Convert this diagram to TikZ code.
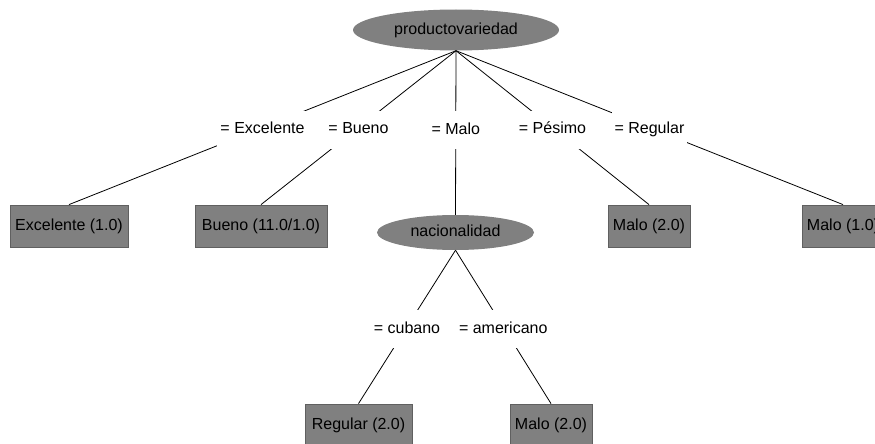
\documentclass[tikz,border=0pt]{standalone}
\usepackage{fontspec}
\setmainfont{Liberation Sans}
\usetikzlibrary{shapes.geometric}
\definecolor{nodegray}{RGB}{128,128,128}
\definecolor{edgegray}{RGB}{96,96,96}
\begin{document}
\begin{tikzpicture}[x=1pt,y=-1pt,
  every node/.style={font=\fontsize{16}{18}\selectfont, text=black,
    text height=11.6pt, text depth=3.4pt},
  splitnode/.style={ellipse, fill=nodegray, draw=none, inner sep=0pt},
  leafbox/.style={rectangle, fill=nodegray, draw=edgegray, line width=0.8pt,
    minimum height=42pt, inner sep=0pt},
  branch/.style={draw=black, line width=0.8pt},
  cond/.style={fill=white, inner xsep=3pt, inner ysep=0pt, minimum height=38pt,
    midway, yshift=-2pt}
]
\useasboundingbox (0,0) rectangle (875,444);
\clip (0,0) rectangle (875,444);

% internal (split) nodes
\node[splitnode, minimum width=206pt, minimum height=41pt] (root) at (456,30) {productovariedad};
\node[splitnode, minimum width=157pt, minimum height=35pt] (nac) at (455.5,232.5) {nacionalidad};

% leaves
\node[leafbox, minimum width=118pt] (exc) at (69,226) {Excelente (1.0)};
\node[leafbox, minimum width=132pt] (bue) at (261,226) {Bueno (11.0/1.0)};
\node[leafbox, minimum width=82pt]  (pes) at (649,226) {Malo (2.0)};
\node[leafbox, minimum width=82pt]  (reg) at (843,226) {Malo (1.0)};
\node[leafbox, minimum width=107pt] (cub) at (358.5,425) {Regular (2.0)};
\node[leafbox, minimum width=82pt]  (ame) at (551,425) {Malo (2.0)};

% branches with their conditions (all labels of one level on one line)
\draw[branch] (root.south) -- node[cond] {= Excelente} (exc.north);
\draw[branch] (root.south) -- node[cond] {= Bueno} (bue.north);
\draw[branch] (root.south) -- node[cond, yshift=4.75pt] {= Malo} (nac.north);
\draw[branch] (root.south) -- node[cond] {= Pésimo} (pes.north);
\draw[branch] (root.south) -- node[cond] {= Regular} (reg.north);
\draw[branch] (nac.south) -- node[cond] {= cubano} (cub.north);
\draw[branch] (nac.south) -- node[cond] {= americano} (ame.north);
\end{tikzpicture}
\end{document}
